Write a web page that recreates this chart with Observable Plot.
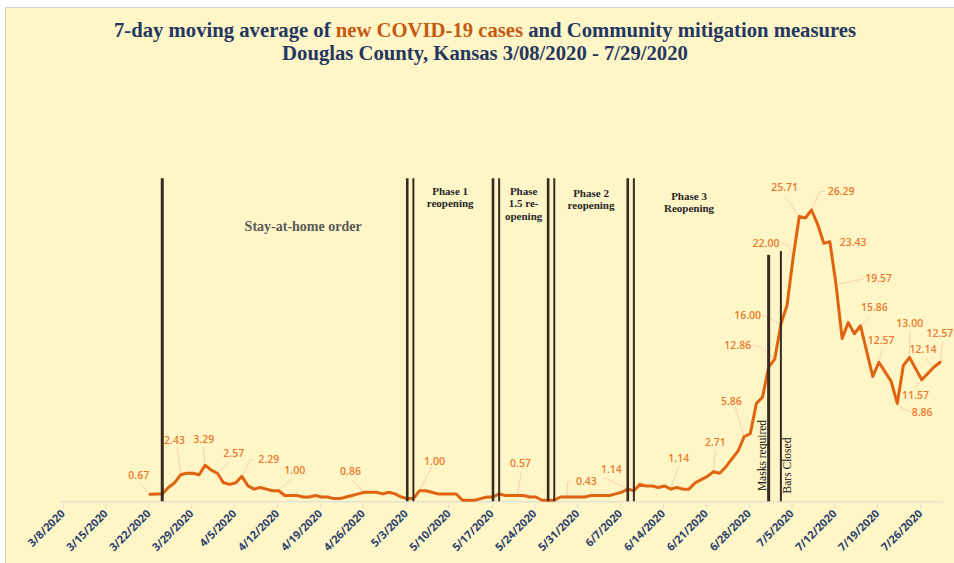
<!DOCTYPE html>
<html><head><meta charset="utf-8">
<script src="https://cdn.jsdelivr.net/npm/d3@7"></script>
<script src="https://cdn.jsdelivr.net/npm/@observablehq/plot@0.6"></script>
<style>
body{margin:0;background:#fff;}
#wrap{position:relative;width:954px;height:563px;overflow:hidden;background:#fff;}
#panel{position:absolute;left:5px;top:7px;width:960px;height:570px;background:#FFF6C8;border:1px solid #d4d4d4;box-sizing:border-box;}
#title{position:absolute;left:8px;top:0;width:954px;height:70px;padding-top:19px;box-sizing:border-box;text-align:center;font-family:"Liberation Serif",serif;font-weight:bold;color:#25375F;font-size:20.7px;line-height:22.5px;}
#title .hl{color:#C55A11;}
#chart{position:absolute;left:0;top:70px;}
</style></head>
<body>
<div id="wrap">
  <div id="panel"></div>
  <div id="title">7-day moving average of <span class="hl">new COVID-19 cases</span> and Community mitigation measures<br>Douglas County, Kansas 3/08/2020 - 7/29/2020</div>
  <div id="chart"></div>
</div>
<script>
// ---------- data ----------
const axisStart = "3/8/2020";
const axisEnd = "7/30/2020";
const tickLabels = ["3/8/2020","3/15/2020","3/22/2020","3/29/2020","4/5/2020","4/12/2020","4/19/2020","4/26/2020","5/3/2020","5/10/2020","5/17/2020","5/24/2020","5/31/2020","6/7/2020","6/14/2020","6/21/2020","6/28/2020","7/5/2020","7/12/2020","7/19/2020","7/26/2020"];
const seriesStart = "3/22/2020";
const avgCases = [
  0.67,0.71,0.71,1.29,1.71,2.43,2.57,2.57,2.43,3.29,2.86,2.57,1.71,1.57,1.71,2.29,1.43,1.14,1.29,1.14,1.00,1.00,
  0.57,0.57,0.57,0.43,0.43,0.57,0.43,0.43,0.29,0.29,0.43,0.57,0.71,0.86,0.86,0.86,0.71,0.86,0.71,0.43,0.29,0.29,
  1.00,1.00,0.86,0.71,0.71,0.71,0.71,0.14,0.14,0.14,0.29,0.43,0.43,0.71,0.57,0.57,0.57,0.57,0.43,0.43,0.14,0.14,
  0.14,0.43,0.43,0.43,0.43,0.43,0.57,0.57,0.57,0.57,0.71,0.86,1.14,1.00,1.57,1.43,1.43,1.29,1.43,1.14,1.29,1.14,
  1.14,1.71,2.00,2.29,2.71,2.57,3.14,3.86,4.57,5.86,6.14,8.86,9.43,12.14,12.86,16.00,17.71,22.00,25.71,25.57,
  26.29,25.00,23.29,23.43,19.57,14.71,16.14,15.14,15.86,13.57,11.29,12.57,11.71,10.86,8.86,12.29,13.00,12.00,
  11.00,11.57,12.14,12.57
];
// labelled points: text and date of the point
const labelTexts = ["0.67","2.43","3.29","2.57","2.29","1.00","0.86","1.00","0.57","0.43","1.14","1.14","2.71","5.86","12.86","16.00","22.00","25.71","26.29","23.43","19.57","15.86","12.57","13.00","12.14","11.57","8.86","12.57"];
const labelDates = ["3/22/2020","3/27/2020","3/31/2020","4/2/2020","4/6/2020","4/12/2020","4/26/2020","5/5/2020","5/21/2020","5/29/2020","6/8/2020","6/15/2020","6/22/2020","6/27/2020","7/2/2020","7/3/2020","7/5/2020","7/6/2020","7/8/2020","7/11/2020","7/12/2020","7/16/2020","7/19/2020","7/24/2020","7/28/2020","7/27/2020","7/22/2020","7/29/2020"];
// mitigation measures
const measureDates = ["3/24/2020","5/3/2020","5/4/2020","5/17/2020","5/18/2020","5/26/2020","5/27/2020","6/8/2020","6/9/2020","7/1/2020","7/3/2020"];
const measureTops = [29.1,29.1,29.1,29.1,29.1,29.1,29.1,29.1,29.1,22.2,22.55];
const periodLabels = ["Stay-at-home order","Phase 1\nreopening","Phase\n1.5 re-\nopening","Phase 2\nreopening","Phase 3\nReopening"];
const periodLabelDates = ["4/16/2020","5/10/2020","5/22/2020","6/2/2020","6/18/2020"];
const verticalLabels = ["Masks required","Bars Closed"];
const verticalLabelDates = ["6/30/2020","7/4/2020"];

// ---------- layout (annotation placement, in days from 3/8 and case units) ----------
const labelLayout = [
  [12.67,2.37,[[12.94,1.65]]],
  [18.50,5.52,[[18.94,4.89]]],
  [23.28,5.59,[[23.18,4.89]]],
  [28.18,4.32,[[27.36,3.57]]],
  [33.89,3.78,[[31.55,3.78],[30.8,3.72]]],
  [38.13,2.82,[[37.87,2.16]]],
  [47.23,2.73,[[47.5,1.98]]],
  [60.94,3.63,[[60.56,3.18]]],
  [74.98,3.42,[[75.09,2.67]]],
  [85.75,1.86,[[83.14,1.86],[82.7,1.77]]],
  [89.83,2.88,[[88.58,2.22]]],
  [100.82,3.93,[[100.82,3.18]]],
  [106.81,5.32,[[106.81,4.62]]],
  [109.42,9.04,[[110.07,8.52]]],
  [110.45,14.08,[[113.06,14.08],[114.16,13.93]]],
  [112.08,16.78,[[114.43,16.78],[115.2,16.63]]],
  [115.08,23.30,[[117.70,23.30],[118.77,23.09]]],
  [118.12,28.29,[[118.24,27.44]]],
  [127.33,27.98,[[124.6,27.98],[123.8,27.9]]],
  [129.29,23.39,[]],
  [133.46,20.09,[[131.01,20.09]]],
  [132.76,17.48,[[132.11,16.63]]],
  [133.86,14.53,[[134.02,13.78]]],
  [138.53,16.04,[[138.53,15.28]]],
  [140.71,13.72,[[141.09,12.88]]],
  [139.49,9.58,[[139.49,10.32]]],
  [140.55,8.02,[[138.92,8.07],[137.3,8.45]]],
  [143.45,15.13,[[143.9,14.38]]]
];
const periodLabelValues = [24.8,27.47,26.88,27.28,27.0];
const verticalLabelValues = [4.17,3.27];
const measureWidths = [3,2.6,2,2.6,2,2.6,2,2.6,2,3,2];

// ---------- helpers ----------
const DAY = 864e5;
const parse = s => { const [m,d,y] = s.split("/").map(Number); return Date.UTC(y, m-1, d); };
const t0 = parse(axisStart);
const atDay = f => new Date(t0 + f*DAY);             // fractional days from axis start
const mid = s => new Date(parse(s) + DAY/2);         // centre of a day's slot

const s0 = parse(seriesStart);
const series = avgCases.map((v,i) => ({date: new Date(s0 + (i+0.5)*DAY), value: v}));
const valueAt = s => { const i = Math.round((parse(s) - s0)/DAY); return avgCases[i]; };

const labels = labelTexts.map((t,i) => ({text: t, x: atDay(labelLayout[i][0]), y: labelLayout[i][1]}));
const leaders = [];
labelTexts.forEach((t,i) => {
  const pts = labelLayout[i][2];
  if (!pts.length) return;
  pts.forEach(p => leaders.push({k:i, x: atDay(p[0]), y: p[1]}));
  leaders.push({k:i, x: mid(labelDates[i]), y: valueAt(labelDates[i])});
});
const measures = measureDates.map((d,i) => ({x: mid(d), top: measureTops[i], w: measureWidths[i]}));
const periods = periodLabels.map((t,i) => ({text:t, x: mid(periodLabelDates[i]), y: periodLabelValues[i]}));
const verticals = verticalLabels.map((t,i) => ({text:t, x: mid(verticalLabelDates[i]), y: verticalLabelValues[i]}));
const tickDates = tickLabels.map(s => new Date(parse(s)));
const fmt = d => `${d.getUTCMonth()+1}/${d.getUTCDate()}/${d.getUTCFullYear()}`;

const chart = Plot.plot({
  width: 954, height: 493,
  marginLeft: 60.7, marginRight: 11.3, marginTop: 98.3, marginBottom: 61.7,
  style: {background: "transparent", overflow: "visible"},
  x: {type: "utc", domain: [new Date(t0), new Date(parse(axisEnd))], axis: null},
  y: {domain: [0, 30], axis: null},
  marks: [
    Plot.ruleY([0], {stroke: "#d9d9d9", strokeWidth: 1}),
    Plot.axisX({ticks: tickDates, tickFormat: fmt, tickSize: 4, tickPadding: 3, tickRotate: -45,
      stroke: "#d9d9d9", fill: "#2B3F6B", fontSize: 11, fontWeight: "bold", fontFamily: "Open Sans", dx: 2, dy: 3}),
    Plot.line(leaders, {x: "x", y: "y", z: "k", stroke: "#F7C6A3", strokeWidth: 0.8}),
    Plot.line(series, {x: "date", y: "value", stroke: "#E0640F", strokeWidth: 3, strokeLinejoin: "round"}),
    Plot.ruleX(measures, {x: "x", y1: 0, y2: "top", stroke: "#3A2A20", strokeWidth: "w"}),
    Plot.text(labels, {x: "x", y: "y", text: "text", fill: "#EB7A2E", fontSize: 10.5, fontFamily: "Open Sans", fontWeight: 600}),
    Plot.text(periods.slice(0,1), {x: "x", y: "y", text: "text", fill: "#595959", fontSize: 14, fontWeight: "bold", fontFamily: "Liberation Serif"}),
    Plot.text(periods.slice(1), {x: "x", y: "y", text: "text", fill: "#262626", fontSize: 11, fontWeight: "bold", fontFamily: "Liberation Serif", lineHeight: 1.15}),
    Plot.text(verticals, {x: "x", y: "y", text: "text", rotate: -90, fill: "#111", fontSize: 11.5, fontFamily: "Liberation Serif"})
  ]
});
document.getElementById("chart").appendChild(chart);
</script>
</body></html>
